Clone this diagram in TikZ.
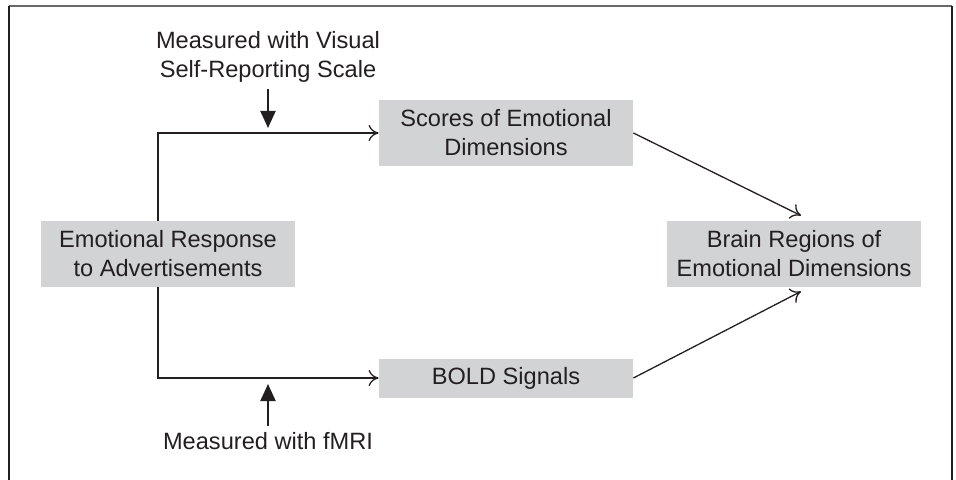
\documentclass[tikz,border=0pt]{standalone}
\usepackage{fontspec}
\setmainfont{Liberation Sans}
\usetikzlibrary{arrows.meta}
\definecolor{adboxgray}{RGB}{209,211,212}
\definecolor{adtextgray}{RGB}{35,31,32}
\definecolor{adframegray}{RGB}{105,105,105}
\tikzset{
	adbox/.style={
		fill=adboxgray,
		text=adtextgray,
		minimum width=127pt,
		inner sep=0pt,
		align=center,
		font=\fontsize{11.8}{14.5}\selectfont
	},
	adnote/.style={
		text=adtextgray,
		inner sep=3pt,
		align=center,
		font=\fontsize{11.8}{14.5}\selectfont
	},
	adconn/.style={
		draw=adtextgray,
		line width=0.65pt,
		-{To[length=5pt,width=8pt]}
	},
	admeasure/.style={
		draw=adtextgray,
		line width=1pt,
		-{Triangle[length=8.5pt,width=7.5pt]}
	}
}

\begin{document}
\begin{tikzpicture}[x=0.5pt,y=-0.5pt]
		\useasboundingbox (0,0) rectangle (956,480);
		% frame
		\draw[adframegray,line width=1pt] (9,6) -- (952,6);
		\draw[adtextgray,line width=1pt] (9,6) -- (9,480);
		\draw[adtextgray,line width=1pt] (952,6) -- (952,480);

		\node[adbox,minimum height=33pt] (response) at (168,254) {Emotional Response\\to Advertisements};
		\node[adbox,minimum height=33pt] (scores) at (506,133) {Scores of Emotional\\Dimensions};
		\node[adbox,minimum height=19.5pt] (bold) at (506,378) {BOLD Signals};
		\node[adbox,minimum height=33pt] (brain) at (794,254) {Brain Regions of\\Emotional Dimensions};

		\node[adnote,anchor=south] (visual) at (268,89) {Measured with Visual\\Self-Reporting Scale};
		\node[adnote,anchor=north] (fmri) at (268,426) {Measured with fMRI};

		\coordinate (trunk) at (158,254);
		\coordinate (tophit) at (268,128);
		\coordinate (bothit) at (268,384);

		\draw[adconn] (trunk |- response.north) |- (scores.west);
		\draw[adconn] (trunk |- response.south) |- (bold.west);
		\draw[adconn] (scores.east) -- ([shift={(7,-5)}]brain.north);
		\draw[adconn] (bold.east) -- ([shift={(7,4)}]brain.south);

		\draw[admeasure] (visual.south) -- (tophit);
		\draw[admeasure] (fmri.north) -- (bothit);
	\end{tikzpicture}
\end{document}
